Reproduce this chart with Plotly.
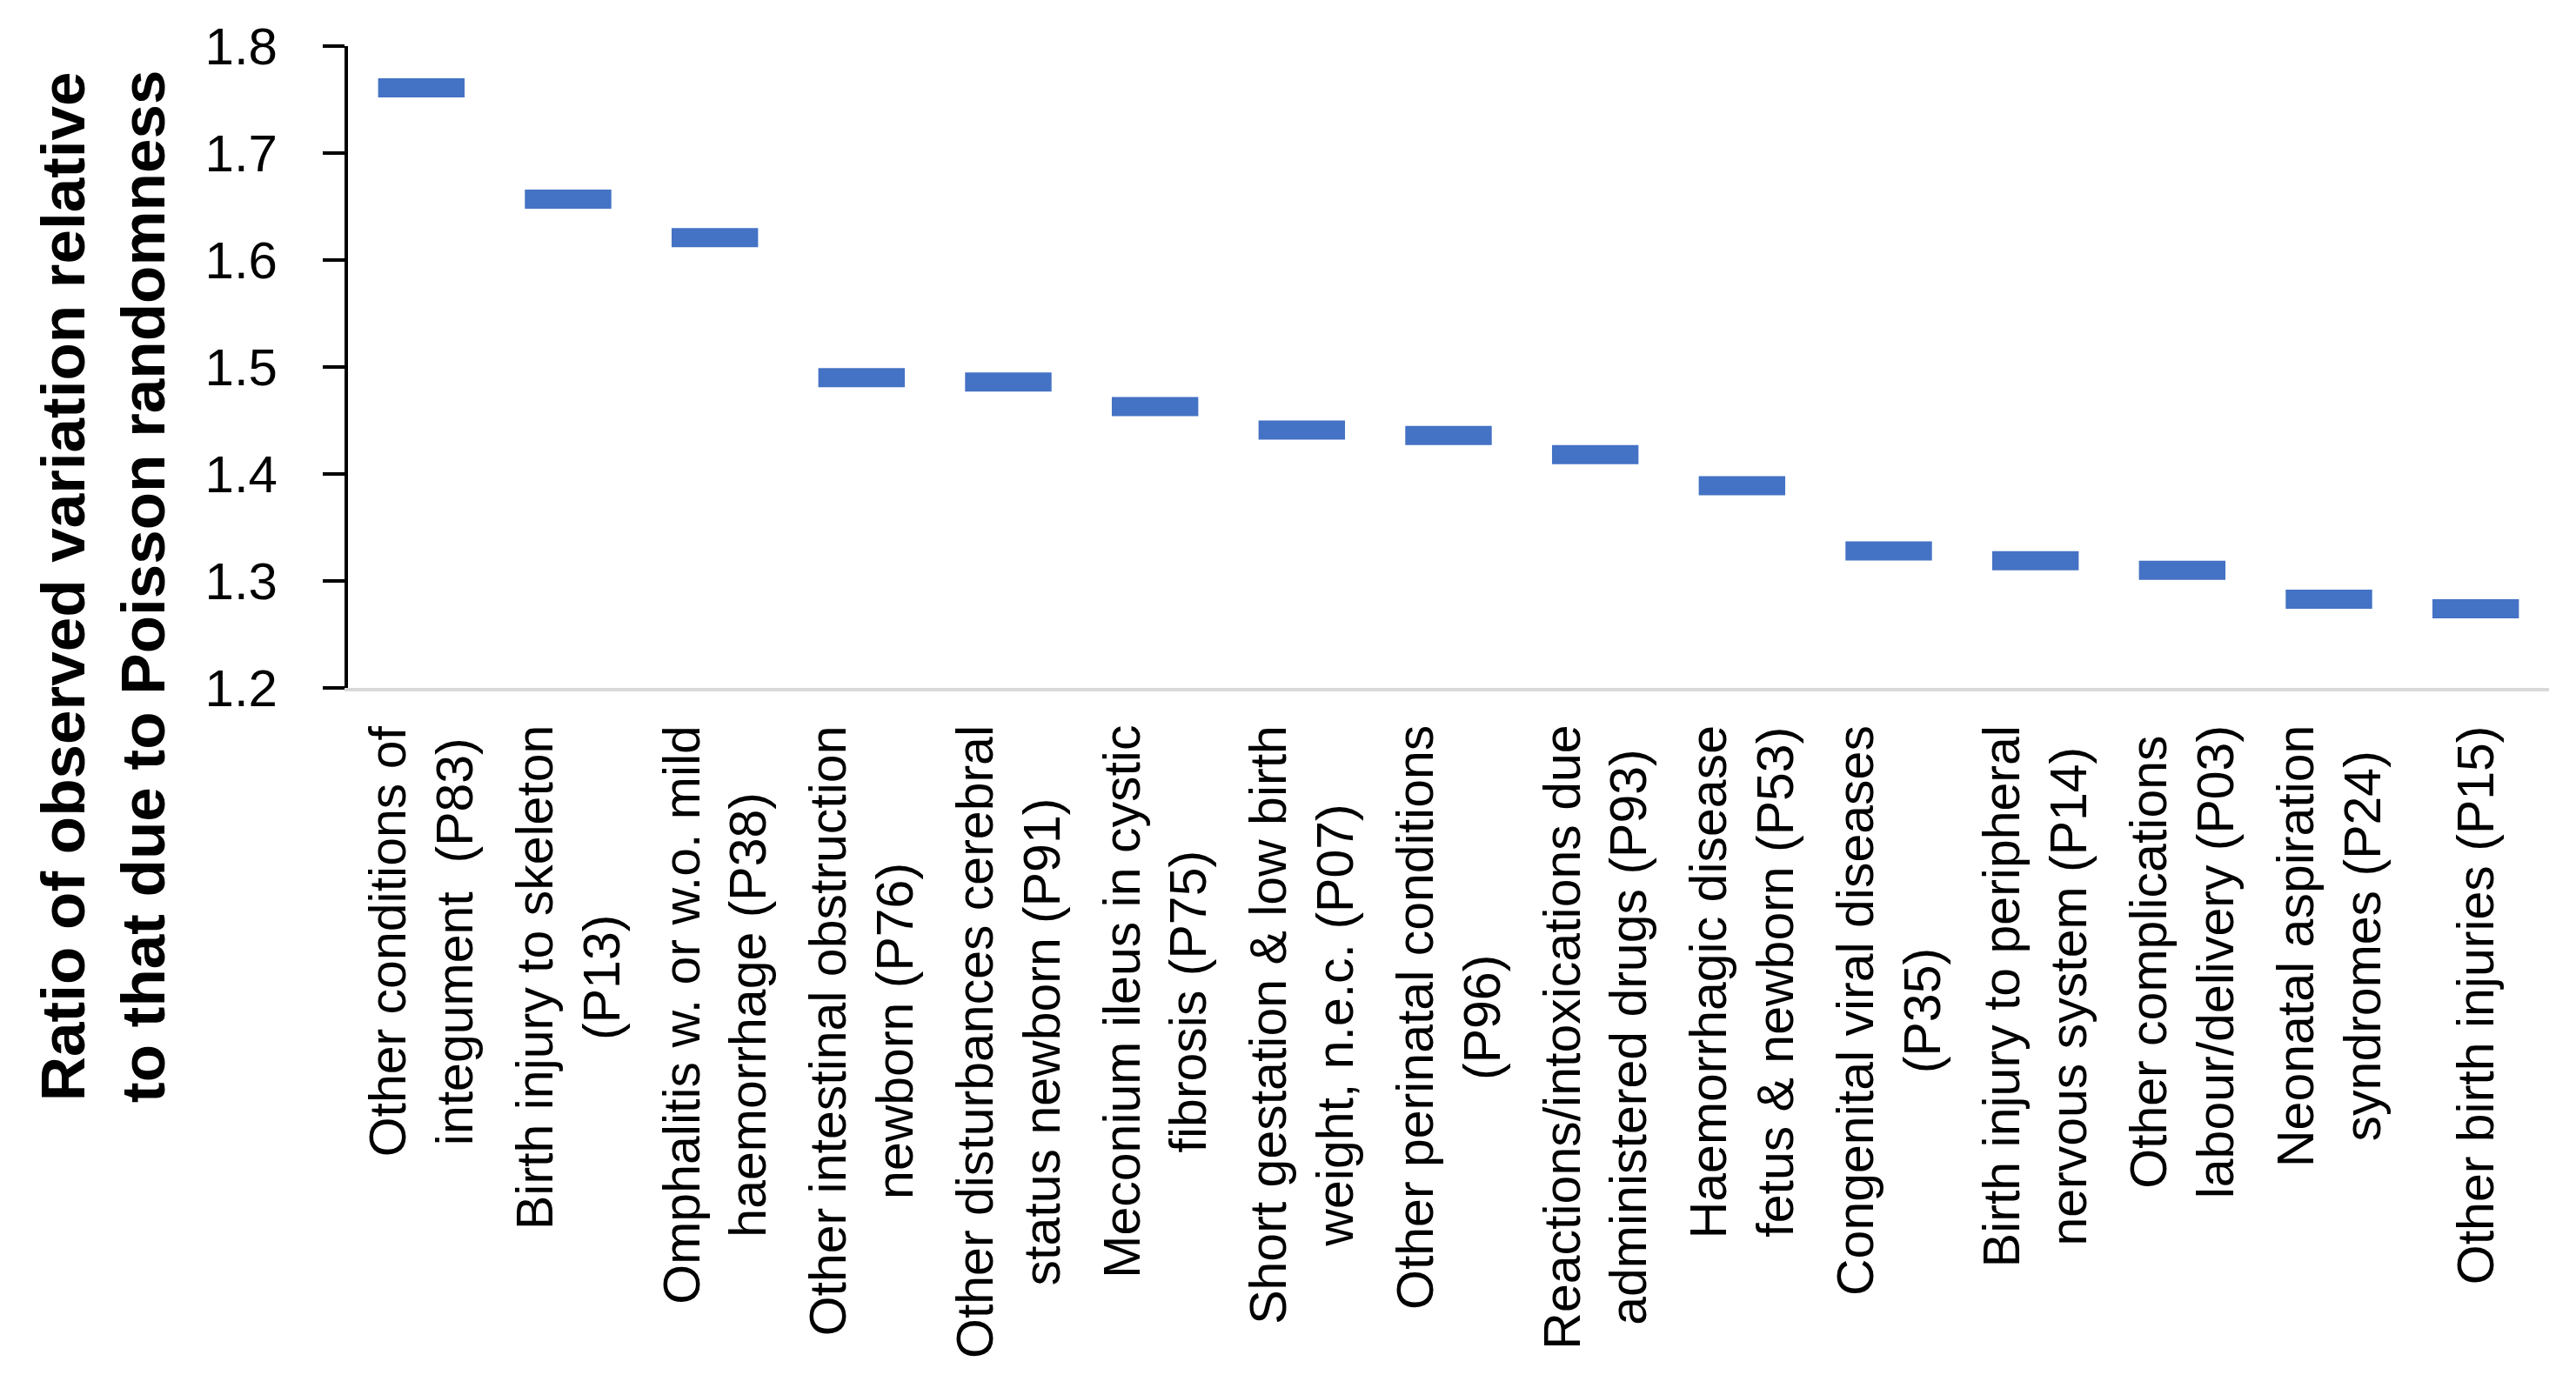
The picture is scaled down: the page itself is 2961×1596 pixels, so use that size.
import plotly.graph_objects as go

categories = [
    "Other conditions of<br>integument  (P83)",
    "Birth injury to skeleton<br>(P13)",
    "Omphalitis w. or w.o. mild<br>haemorrhage (P38)",
    "Other intestinal obstruction<br>newborn (P76)",
    "Other disturbances cerebral<br>status newborn (P91)",
    "Meconium ileus in cystic<br>fibrosis (P75)",
    "Short gestation & low birth<br>weight, n.e.c. (P07)",
    "Other perinatal conditions<br>(P96)",
    "Reactions/intoxications due<br>administered drugs (P93)",
    "Haemorrhagic disease<br>fetus & newborn (P53)",
    "Congenital viral diseases<br>(P35)",
    "Birth injury to peripheral<br>nervous system (P14)",
    "Other complications<br>labour/delivery (P03)",
    "Neonatal aspiration<br>syndromes (P24)",
    "Other birth injuries (P15)",
]
ratios = [1.761, 1.657, 1.621, 1.490, 1.486, 1.463, 1.441, 1.436,
          1.418, 1.389, 1.328, 1.319, 1.310, 1.283, 1.274]
y_ticks = [1.2, 1.3, 1.4, 1.5, 1.6, 1.7, 1.8]
y_title = "<b>Ratio of observed variation relative</b><br><b>to that due to Poisson randomness</b>"

# page body has an 8px default margin; compensate so the figure sits where the reference does
OFF = 8
W, H = 2961 - 2 * OFF, 1596 - 2 * OFF
ML, MT = 400 - OFF, 53 - OFF
plot_w, plot_h = 2530, 738
MR = W - ML - plot_w
MB = H - MT - plot_h

fig = go.Figure()
fig.add_trace(go.Scatter(
    x=categories, y=ratios, mode="markers",
    marker=dict(symbol="line-ew", size=71, color="#4472C4",
                line=dict(color="#4472C4", width=22)),
    hoverinfo="skip", showlegend=False,
))

annotations = []
for c in categories:
    annotations.append(dict(
        x=c, xref="x", y=0, yref="paper", yshift=-41,
        text=c, textangle=-90, showarrow=False,
        xanchor="center", yanchor="top", align="center",
        font=dict(family="Liberation Sans, Arial, sans-serif", size=59, color="#000000"),
    ))
annotations.append(dict(
    x=(118 - 400) / plot_w, xref="paper", y=(791 - 675) / plot_h, yref="paper",
    text=y_title, textangle=-90, showarrow=False,
    xanchor="center", yanchor="middle", align="center",
    font=dict(family="Liberation Sans, Arial, sans-serif", size=71, color="#000000"),
))

fig.update_layout(
    template="none",
    width=W, height=H,
    margin=dict(l=ML, r=MR, t=MT, b=MB, autoexpand=False),
    paper_bgcolor="white", plot_bgcolor="white",
    showlegend=False,
    annotations=annotations,
    xaxis=dict(
        type="category", categoryorder="array", categoryarray=categories,
        range=[-0.5, len(categories) - 0.5],
        showline=True, linecolor="#d9d9d9", linewidth=4,
        showgrid=False, zeroline=False, ticks="", showticklabels=False,
        automargin=False,
    ),
    yaxis=dict(
        range=[1.2, 1.8], tickvals=y_ticks, ticktext=[f"{v:.1f}" for v in y_ticks],
        showline=True, linecolor="#000000", linewidth=4,
        ticks="outside", ticklen=25, tickwidth=4, tickcolor="#000000",
        ticklabelstandoff=40,
        tickfont=dict(family="Liberation Sans, Arial, sans-serif", size=60, color="#000000"),
        showgrid=False, zeroline=False, automargin=False,
    ),
)

fig.write_html("out.html")
